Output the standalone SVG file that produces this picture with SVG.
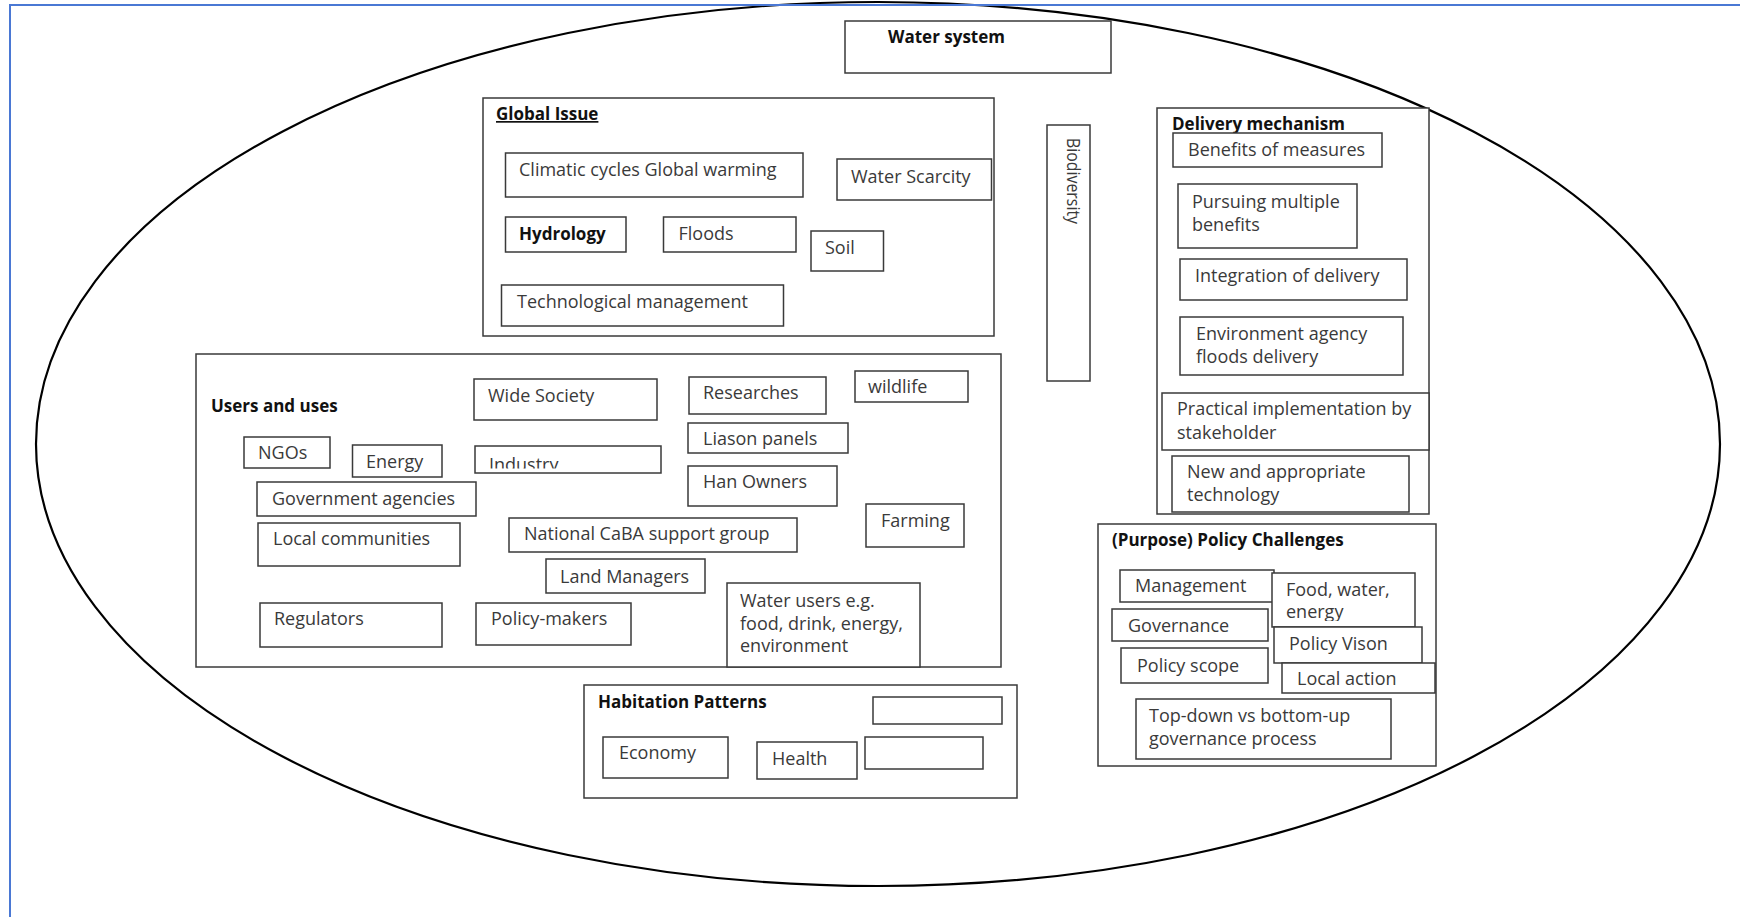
<svg xmlns="http://www.w3.org/2000/svg" width="1740" height="917" viewBox="0 0 1740 917">
  <style>
    .box { fill: #ffffff; stroke: #3a3a3a; stroke-width: 1.5; }
    .t { font-family: "Open Sans", "Liberation Sans", sans-serif; font-size: 18px; fill: #3a3a3a; }
    .h { font-family: "Open Sans", "Liberation Sans", sans-serif; font-size: 17px; font-weight: bold; fill: #111111; }
    .frame { fill: none; stroke: #4a78d4; stroke-width: 2; }
    .oval { fill: none; stroke: #000000; stroke-width: 2.2; }
  </style>
  <defs>
    <clipPath id="clipEnergy"><rect x="352" y="445" width="90" height="27"/></clipPath>
    <clipPath id="clipIndustry"><rect x="475" y="446" width="186" height="22.5"/></clipPath>
    <clipPath id="clipLiason"><rect x="688" y="423" width="160" height="26"/></clipPath>
    <clipPath id="clipFood"><rect x="1272" y="573" width="143" height="48"/></clipPath>
  </defs>

  <rect width="1740" height="917" fill="#ffffff"/>

  <!-- enclosing water-system oval -->
  <ellipse class="oval" cx="878" cy="444" rx="842" ry="442"/>

  <!-- page frame (top and left edges) -->
  <path class="frame" d="M10,917 V5 H1740"/>

  <g id="connectors"/>

  <g id="water-system">
    <rect class="box" x="845" y="21" width="266" height="52"/>
    <text class="h" x="888" y="43">Water system</text>
  </g>

  <g id="global-issue">
    <rect class="box" x="483" y="98" width="511" height="238"/>
    <text class="h" x="496" y="120" text-decoration="underline">Global Issue</text>
    <g id="climatic">
      <rect class="box" x="505.5" y="153" width="297.5" height="44"/>
      <text class="t" x="519" y="176">Climatic cycles Global warming</text>
    </g>
    <g id="water-scarcity">
      <rect class="box" x="837" y="159" width="154.5" height="41"/>
      <text class="t" x="851" y="183">Water Scarcity</text>
    </g>
    <g id="hydrology">
      <rect class="box" x="505.5" y="217" width="120.5" height="35"/>
      <text class="h" x="519" y="240">Hydrology</text>
    </g>
    <g id="floods">
      <rect class="box" x="663.5" y="217" width="132.5" height="35"/>
      <text class="t" x="678.5" y="240">Floods</text>
    </g>
    <g id="soil">
      <rect class="box" x="811" y="231" width="72.5" height="40"/>
      <text class="t" x="825" y="254">Soil</text>
    </g>
    <g id="tech-management">
      <rect class="box" x="501.5" y="285" width="282" height="41"/>
      <text class="t" x="517" y="308">Technological management</text>
    </g>
  </g>

  <g id="biodiversity">
    <rect class="box" x="1047" y="125" width="43" height="256"/>
    <text class="t" transform="translate(1067,138) rotate(90)" font-size="17" textLength="86" lengthAdjust="spacingAndGlyphs">Biodiversity</text>
  </g>

  <g id="delivery-mechanism">
    <rect class="box" x="1157" y="108" width="272" height="406"/>
    <text class="h" x="1172" y="130">Delivery mechanism</text>
    <g id="benefits">
      <rect class="box" x="1173" y="133" width="209" height="34"/>
      <text class="t" x="1188" y="156">Benefits of measures</text>
    </g>
    <g id="pursuing">
      <rect class="box" x="1178" y="184" width="179" height="64"/>
      <text class="t" x="1192" y="208">Pursuing multiple</text>
      <text class="t" x="1192" y="231">benefits</text>
    </g>
    <g id="integration">
      <rect class="box" x="1180" y="259" width="227" height="41"/>
      <text class="t" x="1195" y="282">Integration of delivery</text>
    </g>
    <g id="environment-agency">
      <rect class="box" x="1180" y="317" width="223" height="58"/>
      <text class="t" x="1196" y="340">Environment agency</text>
      <text class="t" x="1196" y="363">floods delivery</text>
    </g>
    <g id="practical">
      <rect class="box" x="1162" y="393" width="267" height="57"/>
      <text class="t" x="1177" y="415">Practical implementation by</text>
      <text class="t" x="1177" y="439">stakeholder</text>
    </g>
    <g id="new-technology">
      <rect class="box" x="1172" y="456" width="237" height="56"/>
      <text class="t" x="1187" y="478">New and appropriate</text>
      <text class="t" x="1187" y="501">technology</text>
    </g>
  </g>

  <g id="policy-challenges">
    <rect class="box" x="1098" y="524" width="338" height="242"/>
    <text class="h" x="1112" y="546">(Purpose) Policy Challenges</text>
    <g id="management">
      <rect class="box" x="1120" y="570" width="154" height="32"/>
      <text class="t" x="1135" y="592">Management</text>
    </g>
    <g id="food-water-energy">
      <rect class="box" x="1272" y="573" width="143" height="54"/>
      <g clip-path="url(#clipFood)">
        <text class="t" x="1286" y="596">Food, water,</text>
        <text class="t" x="1286" y="618">energy</text>
      </g>
    </g>
    <g id="governance">
      <rect class="box" x="1112" y="609" width="156" height="32"/>
      <text class="t" x="1128" y="632">Governance</text>
    </g>
    <g id="policy-vision">
      <rect class="box" x="1274" y="627" width="148" height="36"/>
      <text class="t" x="1289" y="650">Policy Vison</text>
    </g>
    <g id="policy-scope">
      <rect class="box" x="1121" y="648" width="147" height="35"/>
      <text class="t" x="1137" y="672">Policy scope</text>
    </g>
    <g id="local-action">
      <rect class="box" x="1282" y="663" width="153" height="30"/>
      <text class="t" x="1297" y="685">Local action</text>
    </g>
    <g id="top-down">
      <rect class="box" x="1136" y="699" width="255" height="60"/>
      <text class="t" x="1149" y="722">Top-down vs bottom-up</text>
      <text class="t" x="1149" y="745">governance process</text>
    </g>
  </g>

  <g id="users-and-uses">
    <rect class="box" x="196" y="354" width="805" height="313"/>
    <text class="h" x="211" y="412">Users and uses</text>
    <g id="wide-society">
      <rect class="box" x="474" y="379" width="183" height="41"/>
      <text class="t" x="488" y="402">Wide Society</text>
    </g>
    <g id="researches">
      <rect class="box" x="689" y="377" width="137" height="37"/>
      <text class="t" x="703" y="399">Researches</text>
    </g>
    <g id="wildlife">
      <rect class="box" x="855" y="371" width="113" height="31"/>
      <text class="t" x="868" y="393">wildlife</text>
    </g>
    <g id="liason-panels">
      <rect class="box" x="688" y="423" width="160" height="30"/>
      <text class="t" x="703" y="445" clip-path="url(#clipLiason)">Liason panels</text>
    </g>
    <g id="ngos">
      <rect class="box" x="244" y="437" width="86" height="31"/>
      <text class="t" x="258" y="459">NGOs</text>
    </g>
    <g id="energy">
      <rect class="box" x="352.5" y="445" width="89.5" height="32"/>
      <text class="t" x="366" y="468" clip-path="url(#clipEnergy)">Energy</text>
    </g>
    <g id="industry">
      <rect class="box" x="475" y="446" width="186" height="27"/>
      <text class="t" x="489" y="471" clip-path="url(#clipIndustry)">Industry</text>
    </g>
    <g id="han-owners">
      <rect class="box" x="688" y="466" width="149" height="40"/>
      <text class="t" x="703" y="488">Han Owners</text>
    </g>
    <g id="government-agencies">
      <rect class="box" x="257" y="482" width="219" height="34"/>
      <text class="t" x="272" y="505">Government agencies</text>
    </g>
    <g id="farming">
      <rect class="box" x="866" y="504" width="98" height="43"/>
      <text class="t" x="881" y="527">Farming</text>
    </g>
    <g id="national-caba">
      <rect class="box" x="509" y="518" width="288" height="34"/>
      <text class="t" x="524" y="540">National CaBA support group</text>
    </g>
    <g id="local-communities">
      <rect class="box" x="258" y="523" width="202" height="43"/>
      <text class="t" x="273" y="545">Local communities</text>
    </g>
    <g id="land-managers">
      <rect class="box" x="546" y="559" width="159" height="34"/>
      <text class="t" x="560" y="583">Land Managers</text>
    </g>
    <g id="water-users">
      <rect class="box" x="727" y="583" width="193" height="84"/>
      <text class="t" x="740" y="607">Water users e.g.</text>
      <text class="t" x="740" y="630">food, drink, energy,</text>
      <text class="t" x="740" y="652">environment</text>
    </g>
    <g id="regulators">
      <rect class="box" x="260" y="603" width="182" height="44"/>
      <text class="t" x="274" y="625">Regulators</text>
    </g>
    <g id="policy-makers">
      <rect class="box" x="476" y="603" width="155" height="42"/>
      <text class="t" x="491" y="625">Policy-makers</text>
    </g>
  </g>

  <g id="habitation-patterns">
    <rect class="box" x="584" y="685" width="433" height="113"/>
    <text class="h" x="598" y="708">Habitation Patterns</text>
    <rect class="box" x="873" y="697" width="129" height="27"/>
    <g id="economy">
      <rect class="box" x="603" y="737" width="125" height="41"/>
      <text class="t" x="619" y="759">Economy</text>
    </g>
    <g id="health">
      <rect class="box" x="757" y="742" width="100" height="37"/>
      <text class="t" x="772" y="765">Health</text>
    </g>
    <rect class="box" x="865" y="737" width="118" height="32"/>
  </g>
</svg>
